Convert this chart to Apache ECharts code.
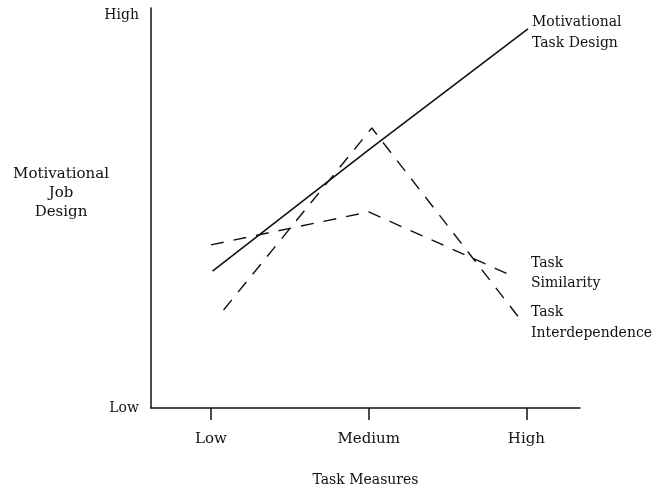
<!DOCTYPE html>
<html>
<head>
<meta charset="utf-8">
<script src="https://cdn.jsdelivr.net/npm/echarts@6/dist/echarts.min.js"></script>
<style>
  html, body { margin: 0; padding: 0; background: #fff; }
  #chart { width: 655px; height: 487px; }
</style>
</head>
<body>
<div id="chart"></div>
<script>
// x positions: 1 = Low, 2 = Medium, 3 = High ; y: 0 = Low, 100 = High
const xTickValues = [1, 2, 3]
const xTickLabels = ['Low', 'Medium', 'High']
const yTickValues = [0, 100]
const yTickLabels = ['Low', 'High']

const taskDesign = [[1.01, 34.9], [2, 65.8], [3.01, 96.7]]
const taskSimilarity = [[1.0, 41.6], [2.0, 50.0], [2.91, 33.7]]
const taskInterdependence = [[1.08, 25.0], [2.02, 71.4], [2.95, 23.2]]

const font = 'DejaVu Serif'
const ink = '#111'

const chart = echarts.init(document.getElementById('chart'))

const dashed = {
  color: ink,
  width: 1.4,
  type: [13, 10]
}

chart.setOption({
  animation: false,
  grid: { left: 151, top: 8, right: 75, bottom: 79, outerBoundsMode: 'none' },
  xAxis: {
    type: 'value',
    min: 0.62,
    max: 3.34,
    splitLine: { show: false },
    axisLine: { lineStyle: { color: ink, width: 1.5 } },
    axisTick: {
      customValues: xTickValues,
      length: 12,
      lineStyle: { color: ink, width: 1.5 }
    },
    axisLabel: {
      customValues: xTickValues,
      margin: 24,
      color: ink,
      fontFamily: font,
      fontSize: 15,
      formatter: v => xTickLabels[xTickValues.indexOf(Math.round(v))] || ''
    },
    name: 'Task Measures',
    nameLocation: 'middle',
    nameGap: 65,
    nameTextStyle: { color: ink, fontFamily: font, fontSize: 14 }
  },
  yAxis: {
    type: 'value',
    min: 0,
    max: 102,
    splitLine: { show: false },
    axisLine: { show: true, lineStyle: { color: ink, width: 1.5 } },
    axisTick: { show: false },
    axisLabel: {
      customValues: yTickValues,
      margin: 12,
      color: ink,
      fontFamily: font,
      fontSize: 14,
      verticalAlign: 'middle',
      formatter: v => yTickLabels[yTickValues.indexOf(v)] || ''
    }
  },
  graphic: [
    {
      type: 'text', x: 61, y: 165,
      style: {
        text: 'Motivational\nJob\nDesign', align: 'center',
        font: '15px "DejaVu Serif"', fill: ink, lineHeight: 19
      }
    },
    {
      type: 'text', x: 532, y: 12,
      style: { text: 'Motivational\nTask Design', font: '14px "DejaVu Serif"', fill: ink, lineHeight: 21 }
    },
    {
      type: 'text', x: 531, y: 253,
      style: { text: 'Task\nSimilarity', font: '14px "DejaVu Serif"', fill: ink, lineHeight: 20 }
    },
    {
      type: 'text', x: 531, y: 302,
      style: { text: 'Task\nInterdependence', font: '14px "DejaVu Serif"', fill: ink, lineHeight: 21 }
    }
  ],
  series: [
    {
      name: 'Motivational Task Design',
      type: 'line',
      data: taskDesign,
      showSymbol: false,
      lineStyle: { color: ink, width: 1.6 }
    },
    {
      name: 'Task Similarity',
      type: 'line',
      data: taskSimilarity,
      showSymbol: false,
      lineStyle: dashed
    },
    {
      name: 'Task Interdependence',
      type: 'line',
      data: taskInterdependence,
      showSymbol: false,
      lineStyle: dashed
    }
  ]
})
</script>
</body>
</html>
